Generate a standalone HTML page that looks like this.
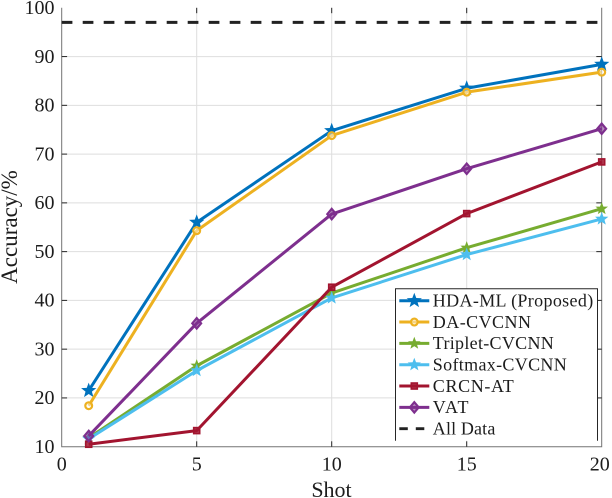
<!DOCTYPE html>
<html>
<head>
<meta charset="utf-8">
<title>Accuracy vs Shot</title>
<style>
html,body{margin:0;padding:0;background:#fff;}
svg{display:block;}
text{font-family:"Liberation Serif",serif;fill:#1c1c1c;}
</style>
</head>
<body>
<svg id="chart" width="612" height="498" viewBox="0 0 612 498" xmlns="http://www.w3.org/2000/svg"></svg>
<script>
const shots = [1, 5, 10, 15, 20];
const hdaMl = [21.5, 56, 74.8, 83.5, 88.4];
const daCvcnn = [18.4, 54.3, 73.8, 82.7, 86.8];
const tripletCvcnn = [11.8, 26.6, 41.5, 50.8, 58.8];
const softmaxCvcnn = [11.6, 25.6, 40.5, 49.4, 56.7];
const crcnAt = [10.5, 13.3, 42.7, 57.8, 68.4];
const vat = [12.2, 35.3, 57.7, 67, 75.2];
const allData = [97, 97];
const allDataShots = [0, 19.85];
const xTicks = [0, 5, 10, 15, 20];
const yTicks = [10, 20, 30, 40, 50, 60, 70, 80, 90, 100];
const seriesNames = ['HDA-ML (Proposed)', 'DA-CVCNN', 'Triplet-CVCNN', 'Softmax-CVCNN', 'CRCN-AT', 'VAT'];
const seriesValues = [hdaMl, daCvcnn, tripletCvcnn, softmaxCvcnn, crcnAt, vat];
const seriesColors = ['#0072BD', '#EDB120', '#77AC30', '#4DBEEE', '#A2142F', '#7E2F8E'];
const seriesMarkers = ['star', 'circle', 'smallstar', 'midstar', 'square', 'diamond'];

const NS = 'http://www.w3.org/2000/svg';
const svg = document.getElementById('chart');
const L = 61.7, R = 601.7, T = 7.8, B = 446.7;
const xScale = v => L + (v - 0) / 20 * (R - L);
const yScale = v => B - (v - 10) / 90 * (B - T);

function make(tag, attrs, parent) {
  const el = document.createElementNS(NS, tag);
  for (const k in attrs) el.setAttribute(k, attrs[k]);
  (parent || svg).appendChild(el);
  return el;
}
function slug(s) {
  return s.toLowerCase().replace(/[^a-z0-9]+/g, '-').replace(/-$/, '');
}
function starPoints(cx, cy, r) {
  const pts = [];
  for (let i = 0; i < 10; i++) {
    const rad = i % 2 ? r * 0.42 : r;
    const a = -Math.PI / 2 + i * Math.PI / 5;
    pts.push((cx + rad * Math.cos(a)).toFixed(2) + ',' + (cy + rad * Math.sin(a)).toFixed(2));
  }
  return pts.join(' ');
}
function drawMarker(kind, cx, cy, color, parent) {
  if (kind === 'star') return make('polygon', {points: starPoints(cx, cy, 8), fill: color}, parent);
  if (kind === 'midstar') return make('polygon', {points: starPoints(cx, cy, 7), fill: color}, parent);
  if (kind === 'smallstar') return make('polygon', {points: starPoints(cx, cy, 5.2), fill: color, stroke: color, 'stroke-width': 1}, parent);
  if (kind === 'circle') return make('circle', {cx: cx, cy: cy, r: 3.4, fill: '#fff', 'fill-opacity': 0.45, stroke: color, 'stroke-width': 2.2}, parent);
  if (kind === 'square') return make('rect', {x: cx - 3, y: cy - 3, width: 6, height: 6, fill: color, 'fill-opacity': 0.85, stroke: color, 'stroke-width': 1.6}, parent);
  return make('polygon', {points: [cx, cy - 5.2, cx + 4.4, cy, cx, cy + 5.2, cx - 4.4, cy].join(' '), fill: color, 'fill-opacity': 0.55, stroke: color, 'stroke-width': 2.2}, parent);
}

// grid
const grid = make('g', {stroke: '#dedede', 'stroke-width': 1});


xTicks.slice(1, -1).forEach(v => {
  const l = make('line', {x1: xScale(v), x2: xScale(v), y1: T, y2: B}, grid);
  
  
});
yTicks.slice(1, -1).forEach(v => {
  const l = make('line', {x1: L, x2: R, y1: yScale(v), y2: yScale(v)}, grid);
  
  
});

// axes
const axes = make('path', {d: `M${L} ${T}V${B}H${R}V${T}`, fill: 'none', stroke: '#737373', 'stroke-width': 1});



// ticks
const ticks = make('g', {stroke: '#262626', 'stroke-width': 1});


xTicks.slice(1, -1).forEach(v => {
  make('line', {x1: xScale(v), x2: xScale(v), y1: B, y2: B - 5.4}, ticks);
  make('line', {x1: xScale(v), x2: xScale(v), y1: T, y2: T + 5.4}, ticks);
});
yTicks.slice(1, -1).forEach(v => {
  make('line', {x1: L, x2: L + 5.4, y1: yScale(v), y2: yScale(v)}, ticks);
  make('line', {x1: R, x2: R - 5.4, y1: yScale(v), y2: yScale(v)}, ticks);
});

// tick labels
xTicks.forEach(v => {
  const t = make('text', {x: xScale(v) - (v === 20 ? 2 : 0), y: B + 24, 'text-anchor': 'middle', 'font-size': 20});
  t.textContent = v;
  
  
});
yTicks.forEach(v => {
  const t = make('text', {x: 54.5, y: yScale(v) + 6.3, 'text-anchor': 'end', 'font-size': 20});
  t.textContent = v;
  
  
});

// series
seriesValues.forEach((vals, i) => {
  const g = make('g', {});
  
  
  const pts = vals.map((v, j) => xScale(shots[j]).toFixed(2) + ',' + yScale(v).toFixed(2)).join(' ');
  make('polyline', {points: pts, fill: 'none', stroke: seriesColors[i], 'stroke-width': 3, 'stroke-linejoin': 'round'}, g);
  vals.forEach((v, j) => {
    const m = drawMarker(seriesMarkers[i], xScale(shots[j]), yScale(v), seriesColors[i], g);
    
    
  });
});

// all data line
const allLine = make('line', {x1: xScale(allDataShots[0]), x2: xScale(allDataShots[1]), y1: yScale(allData[0]), y2: yScale(allData[1]), stroke: '#222', 'stroke-width': 3, 'stroke-dasharray': '10.7 10.3'});



// legend
const legend = make('g', {});


make('rect', {x: 395.5, y: 288.7, width: 202, height: 152, fill: '#fff', stroke: 'none'}, legend);
make('path', {d: 'M395.5 440.7V288.7H597.5V440.7', fill: 'none', stroke: '#262626', 'stroke-width': 1}, legend);
const rowY = i => 300.7 + i * 21.33;
const entries = seriesNames.concat(['All Data']);
const spacing = [0.35, 0.45, 0.3, 0.33, 0.65, 1.5, 0.15];
entries.forEach((name, i) => {
  const g = make('g', {}, legend);
  
  
  const y = rowY(i);
  if (i < 6) {
    make('line', {x1: 399.3, x2: 429.3, y1: y, y2: y, stroke: seriesColors[i], 'stroke-width': 3}, g);
    drawMarker(seriesMarkers[i], 414.3, y, seriesColors[i], g);
  } else {
    make('line', {x1: 399.3, x2: 424.5, y1: y, y2: y, stroke: '#222', 'stroke-width': 2.8, 'stroke-dasharray': '8.5 8'}, g);
  }
  const t = make('text', {x: 432.8, y: y + 5.8, 'font-size': 18, 'letter-spacing': spacing[i]}, g);
  t.textContent = name;
});

// axis titles
const xTitle = make('text', {x: 331.5, y: 497, 'text-anchor': 'middle', 'font-size': 22});
xTitle.textContent = 'Shot';


const yTitle = make('text', {x: 0, y: 0, 'text-anchor': 'middle', 'font-size': 23, transform: 'translate(17 227) rotate(-90)'});
yTitle.textContent = 'Accuracy/%';


</script>
</body>
</html>
